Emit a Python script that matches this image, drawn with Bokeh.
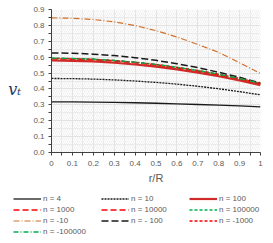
from bokeh.plotting import figure
from bokeh.layouts import column, row
from bokeh.models import Range1d, FixedTicker, Legend, LegendItem, BoxAnnotation, Label
from bokeh.embed import file_html
from bokeh.resources import INLINE

r = [0.0, 0.1, 0.2, 0.3, 0.4, 0.5, 0.6, 0.7, 0.8, 0.9, 1.0]
n4 = [0.318, 0.318, 0.317, 0.315, 0.313, 0.310, 0.306, 0.302, 0.298, 0.293, 0.287]
n10 = [0.466, 0.465, 0.462, 0.457, 0.450, 0.441, 0.430, 0.417, 0.401, 0.383, 0.363]
n100 = [0.579, 0.577, 0.573, 0.565, 0.554, 0.540, 0.523, 0.503, 0.480, 0.453, 0.424]
n1000 = [0.590, 0.588, 0.584, 0.576, 0.565, 0.551, 0.533, 0.513, 0.489, 0.462, 0.432]
n10000 = [0.591, 0.589, 0.585, 0.577, 0.566, 0.552, 0.534, 0.514, 0.490, 0.463, 0.433]
n100000 = [0.592, 0.590, 0.586, 0.578, 0.567, 0.553, 0.535, 0.515, 0.491, 0.464, 0.434]
m10 = [0.847, 0.845, 0.837, 0.822, 0.799, 0.767, 0.727, 0.680, 0.630, 0.565, 0.497]
m100 = [0.627, 0.625, 0.619, 0.610, 0.597, 0.580, 0.559, 0.534, 0.505, 0.473, 0.437]
m1000 = [0.593, 0.591, 0.587, 0.579, 0.568, 0.554, 0.536, 0.516, 0.492, 0.465, 0.435]
m100000 = [0.594, 0.592, 0.588, 0.580, 0.569, 0.555, 0.537, 0.517, 0.493, 0.466, 0.436]

series_names = ["n = 4", "n = 10", "n = 100", "n = 1000", "n = 10000", "n = 100000",
                "n = -10", "n = - 100", "n = -1000", "n = -100000"]
series_values = [n4, n10, n100, n1000, n10000, n100000, m10, m100, m1000, m100000]
series_colors = ["#1a1a1a", "#1a1a1a", "#D02A2A", "#FF0000", "#FF0000", "#00B050",
                 "#D0702C", "#1a1a1a", "#FF0000", "#00B050"]
series_dash = ["solid", "2 1", "solid", "6 3", "6 3", "3 2",
               "6 2 1 2", "7 3", "3 2", "5 2 1 2"]
series_width = [1.3, 1.3, 2.2, 1.4, 1.4, 1.4, 1.2, 1.5, 1.3, 1.3]

x_ticks = [0.0, 0.1, 0.2, 0.3, 0.4, 0.5, 0.6, 0.7, 0.8, 0.9, 1.0]
x_tick_labels = ["0", "0.1", "0.2", "0.3", "0.4", "0.5", "0.6", "0.7", "0.8", "0.9", "1"]
x_minor = [0.05, 0.15, 0.25, 0.35, 0.45, 0.55, 0.65, 0.75, 0.85, 0.95]
y_ticks = [0.0, 0.1, 0.2, 0.3, 0.4, 0.5, 0.6, 0.7, 0.8, 0.9]
y_tick_labels = ["0.0", "0.1", "0.2", "0.3", "0.4", "0.5", "0.6", "0.7", "0.8", "0.9"]
y_minor = [0.05, 0.15, 0.25, 0.35, 0.45, 0.55, 0.65, 0.75, 0.85]
y_title = "v\u209c"

p = figure(frame_width=209, frame_height=143,
           x_range=Range1d(0, 1), y_range=Range1d(0, 0.9),
           output_backend="svg", toolbar_location=None,
           min_border_left=25, min_border_top=9, min_border_right=10, min_border_bottom=38)
p.outline_line_color = None

p.add_layout(BoxAnnotation(fill_color=None, line_color=None, hatch_pattern="right_diagonal_line",
                           hatch_color="#e4e4e4", hatch_scale=4, hatch_weight=0.6, level="underlay"))

for ax, ticks, minor, labels in ((p.xaxis[0], x_ticks, x_minor, x_tick_labels),
                                 (p.yaxis[0], y_ticks, y_minor, y_tick_labels)):
    ax.ticker = FixedTicker(ticks=ticks, minor_ticks=minor)
    ax.major_label_overrides = {t: l for t, l in zip(ticks, labels)}
    ax.axis_line_color = "#404040"
    ax.major_tick_line_color = "#404040"
    ax.minor_tick_line_color = "#404040"
    ax.major_tick_out = 3
    ax.major_tick_in = 0
    ax.minor_tick_out = 3
    ax.minor_tick_in = 0
    ax.major_label_text_font = "Liberation Sans"
    ax.major_label_text_font_size = "8px"
    ax.major_label_text_color = "#595959"
    ax.major_label_standoff = 4

p.xaxis.major_label_standoff = 5
p.xaxis.axis_label = "r/R"
p.xaxis.axis_label_text_font = "Liberation Sans"
p.xaxis.axis_label_text_font_style = "normal"
p.xaxis.axis_label_text_font_size = "11px"
p.xaxis.axis_label_text_color = "#595959"
p.xaxis.axis_label_standoff = 3

for g in p.grid:
    g.grid_line_color = "#dcdcdc"
    g.grid_line_width = 0.8
    g.minor_grid_line_color = "#e8e8e8"
    g.minor_grid_line_width = 0.8

# narrow strip at the left carrying the y-axis title
lab = figure(frame_width=26, frame_height=190, x_range=Range1d(0, 1), y_range=Range1d(0, 1),
             output_backend="svg", toolbar_location=None,
             x_axis_location=None, y_axis_location=None,
             min_border_left=0, min_border_right=0, min_border_top=0, min_border_bottom=0)
lab.outline_line_color = None
lab.xgrid.visible = False
lab.ygrid.visible = False
lab.add_layout(Label(x=0.55, y=0.58, text=y_title, text_align="center", text_baseline="middle",
                     text_font="DejaVu Serif", text_font_style="italic", text_font_size="16px",
                     text_color="#1F3864"))

# legend strip below the chart; its own lines lie outside its (empty) view
q = figure(frame_width=270, frame_height=46, x_range=Range1d(0, 1), y_range=Range1d(5, 6),
           output_backend="svg", toolbar_location=None,
           x_axis_location=None, y_axis_location=None,
           min_border_left=0, min_border_right=0, min_border_top=3, min_border_bottom=0)
q.outline_line_color = None
q.xgrid.visible = False
q.ygrid.visible = False

items = []
for name, vals, col, dash, w in zip(series_names, series_values, series_colors, series_dash, series_width):
    p.line(r, vals, line_color=col, line_dash=dash, line_width=w)
    sample = q.line(r, vals, line_color=col, line_dash=dash, line_width=w)
    items.append(LegendItem(label=name, renderers=[sample]))

legend = Legend(items=items, ncols=3, orientation="horizontal", location=(13, 2),
                glyph_width=28, glyph_height=11, label_height=11, label_width=58,
                label_standoff=2, spacing=0, padding=0, margin=0,
                label_text_font="Liberation Sans", label_text_font_size="8px",
                label_text_color="#595959", border_line_color=None,
                background_fill_alpha=0)
q.add_layout(legend, "center")

layout = column(row(lab, p, spacing=0), q, spacing=0)
open("out.html", "w").write(file_html(layout, INLINE))
